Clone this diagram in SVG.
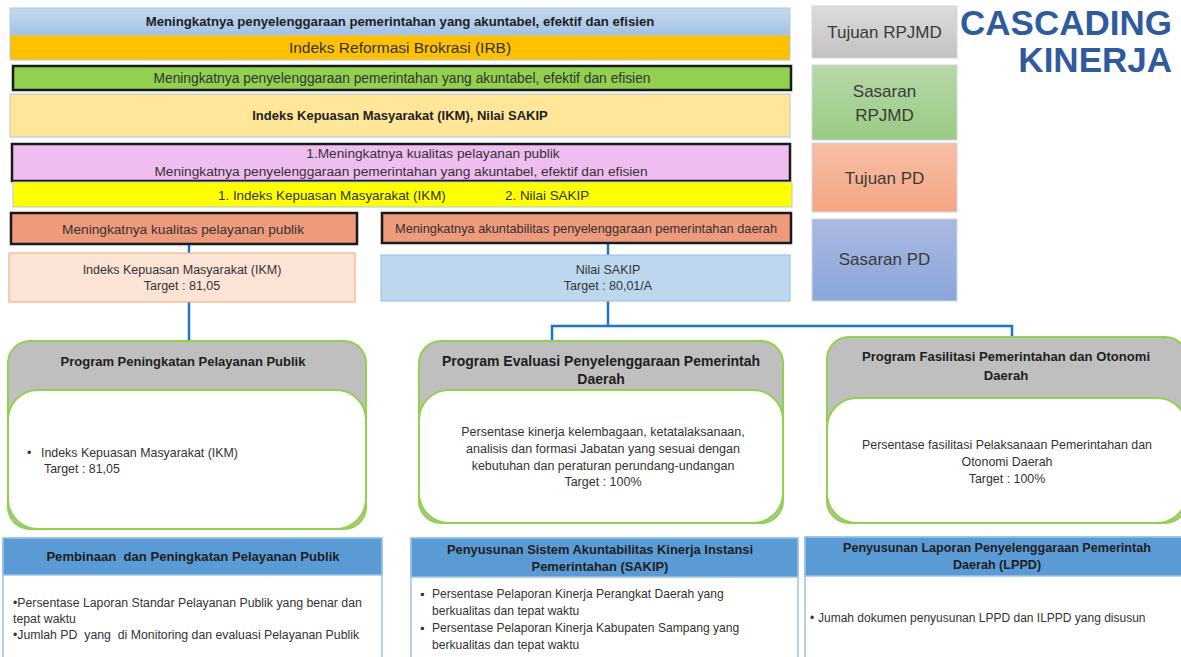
<svg xmlns="http://www.w3.org/2000/svg" width="1181" height="657" viewBox="0 0 1181 657">
  <defs>
    <linearGradient id="gBlue" x1="0" y1="0" x2="0" y2="1">
      <stop offset="0" stop-color="#c5daf0"/>
      <stop offset="1" stop-color="#a3c1e6"/>
    </linearGradient>
    <linearGradient id="gGray" x1="0" y1="0" x2="0" y2="1">
      <stop offset="0" stop-color="#dcdcdc"/>
      <stop offset="1" stop-color="#c2c2c2"/>
    </linearGradient>
    <linearGradient id="gGreen" x1="0" y1="0" x2="0" y2="1">
      <stop offset="0" stop-color="#b7d8a8"/>
      <stop offset="1" stop-color="#9acb83"/>
    </linearGradient>
    <linearGradient id="gSalmon" x1="0" y1="0" x2="0" y2="1">
      <stop offset="0" stop-color="#f7bea6"/>
      <stop offset="1" stop-color="#f4a683"/>
    </linearGradient>
    <linearGradient id="gPeri" x1="0" y1="0" x2="0" y2="1">
      <stop offset="0" stop-color="#abb9e2"/>
      <stop offset="1" stop-color="#8aa5d9"/>
    </linearGradient>
  </defs>
  <style>
    text { font-family: "Liberation Sans", Arial, sans-serif; fill: #333; }
    .c { text-anchor: middle; }
    .b { font-weight: bold; fill: #1e1e1e; }
    .bar { stroke: #b4c7dc; stroke-width: 1; }
    .blk { stroke: #1a1a1a; stroke-width: 2.5; }
    .leg { stroke: #d0d8e4; stroke-width: 1; }
    .legt { font-size: 17px; fill: #3a3a3a; text-anchor: middle; }
    .prog-h { fill: #bfbfbf; stroke: #92d050; stroke-width: 2; }
    .prog-b { fill: #ffffff; stroke: #92d050; stroke-width: 2; }
    .keg-h { fill: #5b9bd5; stroke: #9dc3e6; stroke-width: 1.5; }
    .keg-b { fill: #ffffff; stroke: #9dc3e6; stroke-width: 1.5; }
    .link { fill: none; stroke: #1f74c4; stroke-width: 2.5; }
    .title { font-family: "Liberation Sans", Arial, sans-serif; font-weight: bold; fill: #2f5b9e; font-size: 35px; text-anchor: end; }
  </style>

  <rect width="1181" height="657" fill="#ffffff"/>

  <!-- connectors -->
  <g id="connectors">
    <path class="link" d="M189 244 V253"/>
    <path class="link" d="M189 302 V340"/>
    <path class="link" d="M608 243 V255"/>
    <path class="link" d="M608 301 V326"/>
    <path class="link" d="M552 340 V326 H1012 V337"/>
  </g>

  <!-- Tujuan RPJMD -->
  <g id="tujuan-rpjmd">
    <rect x="10" y="8" width="780" height="27" fill="url(#gBlue)" class="bar"/>
    <text x="400" y="26" class="c b" font-size="13.2">Meningkatnya penyelenggaraan pemerintahan yang akuntabel, efektif dan efisien</text>
  </g>
  <g id="indikator-tujuan-rpjmd">
    <rect x="10" y="35" width="780" height="25" fill="#ffc000" class="bar" stroke="#f0d080"/>
    <text x="400" y="53" class="c" font-size="15.5" fill="#333">Indeks Reformasi Brokrasi (IRB)</text>
  </g>

  <!-- Sasaran RPJMD -->
  <g id="sasaran-rpjmd">
    <rect x="13" y="66" width="778" height="24" fill="#92d050" class="blk"/>
    <text x="402" y="83" class="c" font-size="13.8">Meningkatnya penyelenggaraan pemerintahan yang akuntabel, efektif dan efisien</text>
  </g>
  <g id="indikator-sasaran-rpjmd">
    <rect x="10" y="94" width="780" height="43" fill="#ffe699" class="bar" stroke="#c9d3de"/>
    <text x="400" y="120" class="c b" font-size="13">Indeks Kepuasan Masyarakat (IKM), Nilai SAKIP</text>
  </g>

  <!-- Tujuan PD -->
  <g id="tujuan-pd">
    <rect x="12" y="144" width="778" height="37" fill="#f0bdf0" class="blk"/>
    <text x="433" y="158" class="c" font-size="13.7">1.Meningkatnya kualitas pelayanan publik</text>
    <text x="401" y="175.5" class="c" font-size="13.7">Meningkatnya penyelenggaraan pemerintahan yang akuntabel, efektif dan efisien</text>
  </g>
  <g id="indikator-tujuan-pd">
    <rect x="13" y="182" width="779" height="25" fill="#ffff00" class="bar" stroke="#c8cfb0"/>
    <text x="218" y="199.5" font-size="13.4">1. Indeks Kepuasan Masyarakat (IKM)</text>
    <text x="505" y="199.5" font-size="13.4">2. Nilai SAKIP</text>
  </g>

  <!-- Sasaran PD -->
  <g id="sasaran-pd-1">
    <rect x="11" y="213" width="346" height="31" fill="#ee9a7c" class="blk"/>
    <text x="183" y="233.5" class="c" font-size="13.7">Meningkatnya kualitas pelayanan publik</text>
  </g>
  <g id="sasaran-pd-2">
    <rect x="382" y="213" width="409" height="30" fill="#ee9a7c" class="blk"/>
    <text x="586" y="232.5" class="c" font-size="12.8">Meningkatnya akuntabilitas penyelenggaraan pemerintahan daerah</text>
  </g>
  <g id="indikator-sasaran-pd-1">
    <rect x="9" y="253" width="346" height="49" fill="#fbe4d5" stroke="#f4b183" stroke-width="1.2"/>
    <text x="182" y="274" class="c" font-size="12.5">Indeks Kepuasan Masyarakat (IKM)</text>
    <text x="182" y="290" class="c" font-size="12.5">Target : 81,05</text>
  </g>
  <g id="indikator-sasaran-pd-2">
    <rect x="381" y="255" width="409" height="46" fill="#bdd7ee" stroke="#9dc3e6" stroke-width="1.2"/>
    <text x="608" y="274" class="c" font-size="12.5">Nilai SAKIP</text>
    <text x="608" y="290" class="c" font-size="12.5">Target : 80,01/A</text>
  </g>

  <!-- Program 1 -->
  <g id="program-1">
    <rect x="8" y="341" width="358" height="188" rx="22" class="prog-h"/>
    <rect x="8" y="390" width="358" height="139" rx="30" class="prog-b"/>
    <text x="183" y="366" class="c b" font-size="13">Program Peningkatan Pelayanan Publik</text>
    <text x="27" y="457" font-size="12.4">•</text>
    <text x="41" y="457" font-size="12.4">Indeks Kepuasan Masyarakat (IKM)</text>
    <text x="44" y="473" font-size="12.4">Target : 81,05</text>
  </g>

  <!-- Program 2 -->
  <g id="program-2">
    <rect x="419" y="341" width="364" height="182" rx="22" class="prog-h"/>
    <rect x="419" y="390" width="364" height="133" rx="30" class="prog-b"/>
    <text x="601" y="366" class="c b" font-size="14">Program Evaluasi Penyelenggaraan Pemerintah</text>
    <text x="601" y="384" class="c b" font-size="14">Daerah</text>
    <text x="603" y="436" class="c" font-size="12.5">Persentase kinerja kelembagaan, ketatalaksanaan,</text>
    <text x="603" y="453" class="c" font-size="12.5">analisis dan formasi Jabatan yang sesuai dengan</text>
    <text x="603" y="470" class="c" font-size="12.5">kebutuhan dan peraturan perundang-undangan</text>
    <text x="603" y="486" class="c" font-size="12.5">Target : 100%</text>
  </g>

  <!-- Program 3 -->
  <g id="program-3">
    <rect x="827" y="337" width="360" height="186" rx="22" class="prog-h"/>
    <rect x="827" y="398" width="360" height="125" rx="30" class="prog-b"/>
    <text x="1006" y="361" class="c b" font-size="13.1">Program Fasilitasi Pemerintahan dan Otonomi</text>
    <text x="1006" y="380" class="c b" font-size="13.1">Daerah</text>
    <text x="1007" y="449" class="c" font-size="12.4">Persentase fasilitasi Pelaksanaan Pemerintahan dan</text>
    <text x="1007" y="466" class="c" font-size="12.4">Otonomi Daerah</text>
    <text x="1007" y="483" class="c" font-size="12.4">Target : 100%</text>
  </g>

  <!-- Kegiatan 1 -->
  <g id="kegiatan-1">
    <rect x="3" y="538" width="379" height="130" class="keg-b"/>
    <rect x="3" y="538" width="379" height="37" class="keg-h"/>
    <text x="193" y="561" class="c b" font-size="13.1" xml:space="preserve">Pembinaan  dan Peningkatan Pelayanan Publik</text>
    <text x="13" y="607" font-size="12.3">•Persentase Laporan Standar Pelayanan Publik yang benar dan</text>
    <text x="13" y="623" font-size="12.3">tepat waktu</text>
    <text x="13" y="639" font-size="12.3" xml:space="preserve">•Jumlah PD  yang  di Monitoring dan evaluasi Pelayanan Publik</text>
  </g>

  <!-- Kegiatan 2 -->
  <g id="kegiatan-2">
    <rect x="411" y="538" width="387" height="130" class="keg-b"/>
    <rect x="411" y="538" width="387" height="39" class="keg-h"/>
    <text x="600" y="554" class="c b" font-size="12.9">Penyusunan Sistem Akuntabilitas Kinerja Instansi</text>
    <text x="600" y="571" class="c b" font-size="12.9">Pemerintahan (SAKIP)</text>
    <text x="420" y="598" font-size="12.1">▪</text>
    <text x="432" y="598" font-size="12.1">Persentase Pelaporan Kinerja Perangkat Daerah yang</text>
    <text x="432" y="615" font-size="12.1">berkualitas dan tepat waktu</text>
    <text x="420" y="632" font-size="12.1">▪</text>
    <text x="432" y="632" font-size="12.1">Persentase Pelaporan Kinerja Kabupaten Sampang yang</text>
    <text x="432" y="649" font-size="12.1">berkualitas dan tepat waktu</text>
  </g>

  <!-- Kegiatan 3 -->
  <g id="kegiatan-3">
    <rect x="805" y="537" width="385" height="131" class="keg-b"/>
    <rect x="805" y="537" width="385" height="39" class="keg-h"/>
    <text x="997" y="552" class="c b" font-size="12.6">Penyusunan Laporan Penyelenggaraan Pemerintah</text>
    <text x="997" y="569" class="c b" font-size="12.6">Daerah (LPPD)</text>
    <text x="810" y="622" font-size="12">•</text>
    <text x="818" y="622" font-size="12">Jumah dokumen penyusunan LPPD dan ILPPD yang disusun</text>
  </g>

  <!-- legend -->
  <g id="legend-tujuan-rpjmd">
    <rect x="812" y="6" width="145" height="52" fill="url(#gGray)" class="leg"/>
    <text x="884.5" y="38" class="legt">Tujuan RPJMD</text>
  </g>
  <g id="legend-sasaran-rpjmd">
    <rect x="812" y="65" width="145" height="75" fill="url(#gGreen)" class="leg"/>
    <text x="884.5" y="97" class="legt">Sasaran</text>
    <text x="884.5" y="121" class="legt">RPJMD</text>
  </g>
  <g id="legend-tujuan-pd">
    <rect x="812" y="143" width="145" height="69" fill="url(#gSalmon)" class="leg"/>
    <text x="884.5" y="184" class="legt">Tujuan PD</text>
  </g>
  <g id="legend-sasaran-pd">
    <rect x="812" y="219" width="145" height="82" fill="url(#gPeri)" class="leg"/>
    <text x="884.5" y="265" class="legt">Sasaran PD</text>
  </g>

  <g id="heading">
    <text x="1172" y="35" class="title">CASCADING</text>
    <text x="1172" y="72" class="title">KINERJA</text>
  </g>
</svg>
